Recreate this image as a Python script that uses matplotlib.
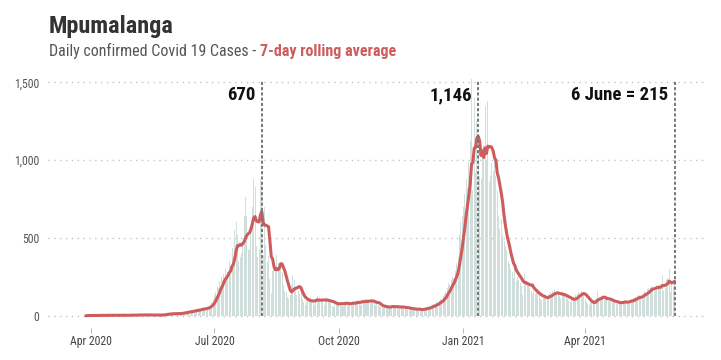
import pandas as pd
import matplotlib
matplotlib.use("Agg")
import matplotlib.pyplot as plt
from matplotlib import font_manager
from matplotlib.ticker import FuncFormatter


def pick_font(names):
    # first condensed-ish family that is actually installed
    for name in names:
        try:
            font_manager.findfont(name, fallback_to_default=False)
            return name
        except ValueError:
            pass
    return "DejaVu Sans"


FONT = pick_font(["Roboto Condensed", "Liberation Sans Narrow", "Roboto"])
plt.rcParams["font.family"] = [FONT, "DejaVu Sans"]

# Daily confirmed cases, Mpumalanga (28 Mar 2020 - 6 Jun 2021)
mar20 = [0, 1, 3, 2]
apr20 = [0, 4, 1, 2, 0, 3, 1, 5, 2, 1, 3, 2, 0, 4, 6, 2, 3, 1, 3, 2,
         0, 4, 3, 2, 2, 5, 3, 1, 4, 6]
may20 = [3, 4, 2, 7, 5, 3, 6, 4, 5, 3, 8, 6, 2, 4, 7, 3, 2, 5, 4, 1,
         3, 6, 8, 5, 10, 9, 12, 14, 11, 16, 13]
jun20 = [12, 9, 16, 14, 11, 18, 20, 22, 19, 25, 28, 24, 32, 30, 27, 38, 35, 42, 36, 45,
         40, 48, 52, 44, 50, 55, 60, 72, 88, 110]
jul20 = [130, 150, 190, 180, 220, 250, 230, 270, 300, 260, 280, 350, 320, 437, 370, 553,
         600, 519, 350, 380, 400, 450, 640, 760, 640, 420, 430, 560, 700, 880, 830]
aug20 = [450, 380, 420, 880, 850, 390, 700, 454, 345, 385, 236, 143, 290, 360, 310, 390,
         340, 320, 330, 280, 200, 160, 150, 120, 110, 130, 200, 260, 230, 185, 130]
sep20 = [160, 140, 150, 105, 90, 70, 85, 95, 115, 120, 95, 80, 70, 110, 125, 100,
         118, 96, 88, 72, 108, 122, 95, 104, 80, 65, 58, 82, 88, 75]
oct20 = [82, 90, 65, 60, 88, 95, 78, 84, 70, 62, 85, 92, 88, 100, 96, 75,
         70, 98, 105, 90, 110, 95, 82, 78, 105, 100, 88, 72, 80, 70, 60]
nov20 = [55, 55, 50, 62, 58, 65, 48, 52, 70, 60, 55, 58, 62, 45, 40, 68,
         62, 55, 50, 48, 38, 35, 50, 52, 45, 40, 38, 30, 42, 48]
dec20 = [40, 35, 50, 55, 42, 58, 62, 55, 70, 78, 65, 88, 80, 95, 110, 100,
         125, 140, 150, 180, 210, 195, 230, 250, 240, 290, 340, 380, 520, 600, 640]
jan21 = [700, 780, 880, 820, 990, 1120, 1520, 810, 1400, 920, 1250, 1050, 900, 880, 1020, 1100,
         1350, 1000, 1380, 860, 900, 980, 930, 1050, 900, 800, 640, 560, 620, 520, 480]
feb21 = [450, 420, 350, 330, 300, 280, 240, 340, 220, 250, 230, 210, 190, 130,
         270, 220, 200, 210, 180, 160, 140, 160, 140, 150, 140, 130, 110, 100]
mar21 = [115, 130, 105, 125, 140, 150, 120, 160, 170, 135, 150, 140, 125, 110, 150, 145,
         125, 120, 110, 95, 85, 110, 105, 115, 130, 140, 150, 135, 160, 150, 130]
apr21 = [110, 90, 75, 70, 85, 95, 80, 100, 110, 160, 95, 120, 115, 125, 110,
         105, 100, 95, 110, 100, 90, 85, 80, 75, 90, 85, 80, 95, 90, 100]
may21 = [80, 75, 95, 100, 110, 105, 115, 120, 100, 130, 135, 120, 125, 145, 160, 140,
         170, 180, 175, 190, 185, 170, 160, 200, 195, 185, 190, 260, 160, 180, 230]
jun21 = [240, 300, 150, 215, 190, 220]

marker_dates = ["2020-08-05", "2021-01-12", "2021-06-06"]
marker_labels = ["670", "1,146", "6 June = 215"]
xtick_dates = ["2020-04-01", "2020-07-01", "2020-10-01", "2021-01-01", "2021-04-01"]
xtick_labels = ["Apr 2020", "Jul 2020", "Oct 2020", "Jan 2021", "Apr 2021"]
ytick_values = [0, 500, 1000, 1500]

daily = (mar20 + apr20 + may20 + jun20 + jul20 + aug20 + sep20 + oct20 + nov20
         + dec20 + jan21 + feb21 + mar21 + apr21 + may21 + jun21)
dates = pd.date_range("2020-03-28", periods=len(daily), freq="D")
assert dates[-1] == pd.Timestamp("2021-06-06"), dates[-1]
cases = pd.Series(daily, index=dates)
rolling = cases.rolling(7, min_periods=1).mean()

RED = "#cd5c5c"
BAR = "#d0dedc"

fig = plt.figure(figsize=(7.21, 3.6), dpi=100)
ax = fig.add_axes([48 / 721, 1 - 328 / 360, 659 / 721, 255 / 360])

ax.bar(dates, cases.values, width=0.75, color=BAR, linewidth=0, zorder=2)
ax.plot(dates, rolling.values, color=RED, lw=2.2, solid_capstyle="round", zorder=3)

for d, lab in zip(marker_dates, marker_labels):
    t = pd.Timestamp(d)
    ax.vlines(t, 0, 1515, colors="#777777", linestyles=(0, (1.6, 1.1)), lw=1.4, zorder=4)
    ax.annotate(lab, (t, 1386), xytext=(-4.5, 0), textcoords="offset points",
                ha="right", va="baseline", fontsize=13.5, fontweight="bold", color="#111111")

ax.set_xlim(pd.Timestamp("2020-02-29"), pd.Timestamp("2021-06-30"))
ax.set_ylim(-79, 1560)
ax.set_yticks(ytick_values)
ax.yaxis.set_major_formatter(FuncFormatter(lambda v, p: f"{int(v):,}"))
ax.set_xticks([pd.Timestamp(s) for s in xtick_dates])
ax.set_xticklabels(xtick_labels)

ax.yaxis.grid(True, color="#c4c4c4", linestyle=(0, (1, 3.2)), lw=1)
ax.set_axisbelow(True)
for s in ax.spines.values():
    s.set_visible(False)
ax.tick_params(axis="y", length=0, pad=6.3, labelsize=8.5, labelcolor="#555555")
ax.tick_params(axis="x", length=3.6, width=0.8, color="#bbbbbb", pad=1.5,
               labelsize=8.5, labelcolor="#444444")

# title + two-colour subtitle
fig.text(49 / 721, 1 - 33.3 / 360, "Mpumalanga", fontsize=17.5, fontweight="bold",
         color="#333333", va="baseline")
sub1 = fig.text(49 / 721, 1 - 55.7 / 360, "Daily confirmed Covid 19 Cases - ",
                fontsize=11.5, color="#555555", va="baseline")
fig.canvas.draw()
bb = sub1.get_window_extent()
fig.text(bb.x1 / fig.bbox.width, 1 - 55.7 / 360, "7-day rolling average",
         fontsize=11.5, fontweight="bold", color=RED, va="baseline")

fig.savefig("out.png", dpi=100)
